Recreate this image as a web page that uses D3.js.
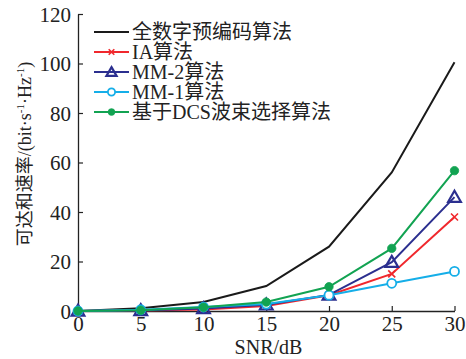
<!DOCTYPE html>
<html>
<head>
<meta charset="utf-8">
<script src="https://cdn.jsdelivr.net/npm/d3@7"></script>
<style>
  html, body { margin: 0; padding: 0; background: #fff; }
  svg { display: block; }
  text { font-family: "Liberation Serif", "Noto Sans CJK SC", serif; fill: #222; }
</style>
</head>
<body>
<svg id="chart" width="466" height="359"></svg>
<script>
// SNR points (dB)
const snr = [0, 5, 10, 15, 20, 25, 30];

// Achievable sum rate (bit·s^-1·Hz^-1) per algorithm
const fullDigital = [0, 1.1, 3.6, 10.1, 26, 56, 100.5];
const iaRate      = [0, 0.2, 0.6, 2.0, 6.4, 15, 38];
const mm2Rate     = [0, 0.2, 1.0, 2.5, 6.5, 19.7, 46];
const mm1Rate     = [0, 0.5, 1.6, 2.8, 6.4, 11.2, 16];
const dcsRate     = [0, 0.3, 1.5, 3.6, 9.8, 25.3, 56.7];

const seriesNames = ["全数字预编码算法", "IA算法", "MM-2算法", "MM-1算法", "基于DCS波束选择算法"];
const seriesColors = ["#1a1a1a", "#f0282d", "#2b2f8f", "#15aee8", "#12a352"];
const seriesMarkers = ["none", "cross", "triangle", "circle", "dot"];
const seriesValues = [fullDigital, iaRate, mm2Rate, mm1Rate, dcsRate];

const xTicks = [0, 5, 10, 15, 20, 25, 30];
const yTicks = [0, 20, 40, 60, 80, 100, 120];

const svg = d3.select("#chart");
const x = d3.scaleLinear().domain([0, 30]).range([78, 454.5]);
const y = d3.scaleLinear().domain([0, 120]).range([311, 14]);

// Axes: ticks point inward
const xAxis = d3.axisBottom(x).tickValues(xTicks).tickSizeInner(-5).tickSizeOuter(0).tickPadding(5);
const yAxis = d3.axisLeft(y).tickValues(yTicks).tickSizeInner(-5).tickSizeOuter(0).tickPadding(7);

const gx = svg.append("g").attr("transform", `translate(0,${y(0)})`).call(xAxis);
const gy = svg.append("g").attr("transform", `translate(${x(0)},0)`).call(yAxis);
[gx, gy].forEach(g => {
  g.select(".domain").attr("stroke", "#222").attr("stroke-width", 1.3);
  g.selectAll(".tick line").attr("stroke", "#222").attr("stroke-width", 1.2);
  g.selectAll(".tick text").attr("font-family", "Liberation Serif").attr("font-size", 21).attr("fill", "#222");
});
gx.selectAll(".tick text").attr("dy", "0.7em");
gy.selectAll(".tick text").attr("dy", "0.34em");

// Axis titles
svg.append("text")
  .attr("x", 268.5).attr("y", 354)
  .attr("text-anchor", "middle")
  .attr("font-size", 20)
  .text("SNR/dB");

const yl = svg.append("text")
  .attr("transform", "translate(31,154) rotate(-90)")
  .attr("text-anchor", "middle")
  .attr("font-size", 18);
yl.append("tspan").text("可达和速率/(bit·s");
yl.append("tspan").attr("dy", -7).attr("font-size", 11).text("-1");
yl.append("tspan").attr("dy", 7).text("·Hz");
yl.append("tspan").attr("dy", -7).attr("font-size", 11).text("-1");
yl.append("tspan").attr("dy", 7).text(")");

// Marker drawing
function drawMarker(g, type, cx, cy, color, s = 1) {
  if (type === "cross") {
    const r = 3.5 * s;
    g.append("path")
      .attr("d", `M${cx-r},${cy-r}L${cx+r},${cy+r}M${cx-r},${cy+r}L${cx+r},${cy-r}`)
      .attr("stroke", color).attr("stroke-width", 1.6).attr("fill", "none");
  } else if (type === "triangle") {
    g.append("path")
      .attr("d", d3.symbol().type(d3.symbolTriangle).size(70 * s * s)())
      .attr("transform", `translate(${cx},${cy+1})`)
      .attr("fill", "none").attr("stroke", color).attr("stroke-width", 2.2);
  } else if (type === "circle") {
    g.append("circle").attr("cx", cx).attr("cy", cy).attr("r", 4.5 * s)
      .attr("fill", "#fff").attr("stroke", color).attr("stroke-width", 1.8);
  } else if (type === "dot") {
    g.append("circle").attr("cx", cx).attr("cy", cy).attr("r", 4.2 * s)
      .attr("fill", color).attr("stroke", color).attr("stroke-width", 0.8);
  }
}

const line = d3.line().x(d => x(d[0])).y(d => y(d[1]));

// Draw order: black, red, blue, cyan, green on top
seriesValues.forEach((vals, i) => {
  const g = svg.append("g");
  const pts = snr.map((s, k) => [s, vals[k]]);
  g.append("path").datum(pts)
    .attr("d", line)
    .attr("fill", "none")
    .attr("stroke", seriesColors[i])
    .attr("stroke-width", 2);
  pts.forEach(p => drawMarker(g, seriesMarkers[i], x(p[0]), y(p[1]), seriesColors[i]));
});

// Legend
const legendRows = [32, 52, 72, 92, 112];
seriesNames.forEach((name, i) => {
  const g = svg.append("g");
  const ly = legendRows[i];
  g.append("line").attr("x1", 94).attr("x2", 129).attr("y1", ly).attr("y2", ly)
    .attr("stroke", seriesColors[i]).attr("stroke-width", 2);
  drawMarker(g, seriesMarkers[i], 111.5, ly, seriesColors[i], 0.8);
  g.append("text").attr("x", 132).attr("y", ly + 7)
    .attr("font-size", 20)
    .text(name);
});
</script>
</body>
</html>
